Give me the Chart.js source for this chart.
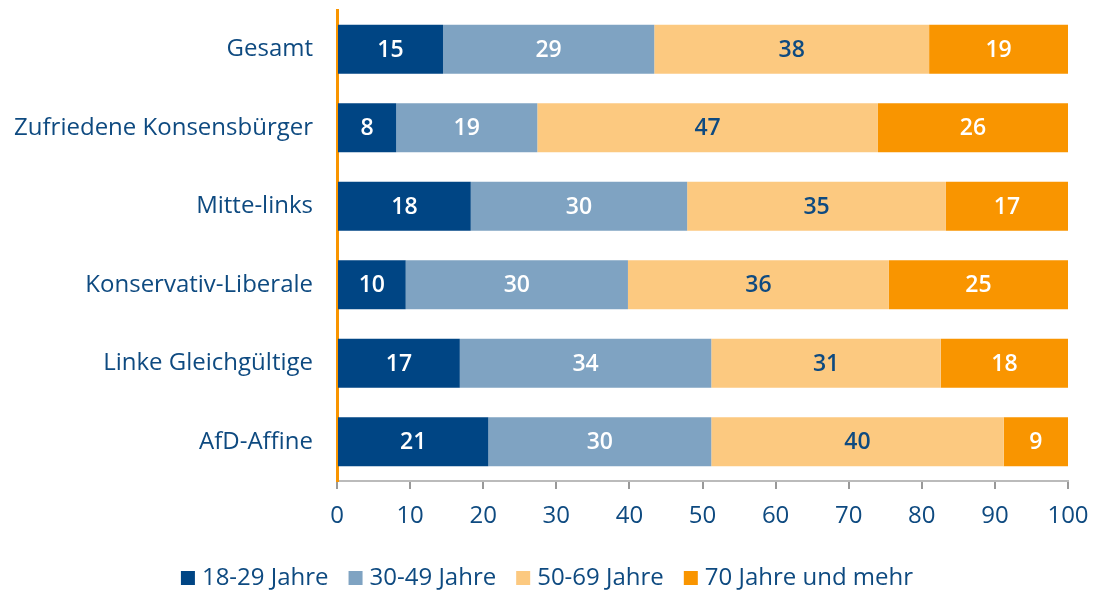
<!DOCTYPE html>
<html lang="de">
<head>
  <meta charset="UTF-8" />
  <title>Altersstruktur nach Segment</title>
  <script src="https://cdn.jsdelivr.net/npm/chart.js"></script>
  <style>
    html, body { margin: 0; padding: 0; background: #fff; }
    #wrap { width: 1094px; height: 592px; }
  </style>
</head>
<body>
  <div id="wrap"><canvas id="ageChart" width="1094" height="592"></canvas></div>
  <script>
    const categories = ["Gesamt", "Zufriedene Konsensbürger", "Mitte-links", "Konservativ-Liberale", "Linke Gleichgültige", "AfD-Affine"];
    const seriesNames = ["18-29 Jahre", "30-49 Jahre", "50-69 Jahre", "70 Jahre und mehr"];

    // bar lengths
    const age18to29 = [14.5, 8.1, 18.3, 9.4, 16.8, 20.7];
    const age30to49 = [28.9, 19.3, 29.6, 30.4, 34.4, 30.5];
    const age50to69 = [37.6, 46.6, 35.4, 35.7, 31.4, 40.0];
    const age70plus = [19.0, 26.0, 16.7, 24.5, 17.4, 8.8];

    // printed labels
    const label18to29 = [15, 8, 18, 10, 17, 21];
    const label30to49 = [29, 19, 30, 30, 34, 30];
    const label50to69 = [38, 47, 35, 36, 31, 40];
    const label70plus = [19, 26, 17, 25, 18, 9];

    const xTicks = [0, 10, 20, 30, 40, 50, 60, 70, 80, 90, 100];

    const textBlue = "#0e4a80";
    const colors = ["#004584", "#7fa3c2", "#fcc980", "#f99500"];
    const labelColors = ["#ffffff", "#ffffff", textBlue, "#ffffff"];
    const values = [age18to29, age30to49, age50to69, age70plus];
    const printed = [label18to29, label30to49, label50to69, label70plus];

    const barLabels = {
      id: "barLabels",
      afterDatasetsDraw(chart) {
        const ctx = chart.ctx;
        ctx.save();
        ctx.font = "600 23px 'Open Sans'";
        ctx.textAlign = "center";
        ctx.textBaseline = "middle";
        chart.data.datasets.forEach((ds, i) => {
          chart.getDatasetMeta(i).data.forEach((bar, j) => {
            const p = bar.getProps(["x", "y", "base"], true);
            ctx.fillStyle = labelColors[i];
            ctx.fillText(printed[i][j], (p.x + p.base) / 2, p.y + 1);
          });
        });
        ctx.restore();
      }
    };

    // legend with a tighter box-to-text gap than the built-in one
    const bottomLegend = {
      id: "bottomLegend",
      afterDraw(chart) {
        const ctx = chart.ctx;
        const box = 14, gap = 7, spacing = 20, cy = 578;
        ctx.save();
        ctx.font = "24px 'Open Sans'";
        ctx.textBaseline = "middle";
        const items = chart.data.datasets.map(ds => ({ text: ds.label, color: ds.backgroundColor, w: ctx.measureText(ds.label).width }));
        const total = items.reduce((s, it) => s + box + gap + it.w, 0) + spacing * (items.length - 1);
        let x = (chart.width - total) / 2;
        items.forEach(it => {
          ctx.fillStyle = it.color;
          ctx.fillRect(x, cy - 7, box, box);
          ctx.fillStyle = textBlue;
          ctx.fillText(it.text, x + box + gap, cy);
          x += box + gap + it.w + spacing;
        });
        ctx.restore();
      }
    };

    new Chart(document.getElementById("ageChart"), {
      type: "bar",
      data: {
        labels: categories,
        datasets: seriesNames.map((name, i) => ({
          label: name,
          data: values[i],
          backgroundColor: colors[i],
          borderWidth: 0,
          barPercentage: 0.624,
          categoryPercentage: 1.0
        }))
      },
      options: {
        indexAxis: "y",
        responsive: false,
        animation: false,
        layout: { padding: { top: 10, right: 26, left: 10, bottom: 42 } },
        plugins: {
          tooltip: { enabled: false },
          legend: { display: false }
        },
        scales: {
          x: {
            stacked: true,
            min: 0,
            max: 100,
            afterBuildTicks: axis => { axis.ticks = xTicks.map(v => ({ value: v })); },
            afterFit: axis => { axis.height = 69; axis.paddingLeft = 0; axis.paddingRight = 0; },
            grid: { drawOnChartArea: false, drawTicks: true, tickLength: 8, color: "#999999", lineWidth: 2 },
            border: { display: true, color: "#bbbbbb", width: 2 },
            ticks: { color: textBlue, font: { family: "'Open Sans'", size: 24 }, padding: 13 }
          },
          y: {
            stacked: true,
            afterFit: axis => { axis.width = 327; axis.paddingTop = 0; axis.paddingBottom = 0; },
            grid: { display: false },
            border: { display: true, color: "#f99500", width: 3 },
            ticks: { color: textBlue, font: { family: "'Open Sans'", size: 24 }, padding: 16 }
          }
        }
      },
      plugins: [barLabels, bottomLegend]
    });
  </script>
</body>
</html>
